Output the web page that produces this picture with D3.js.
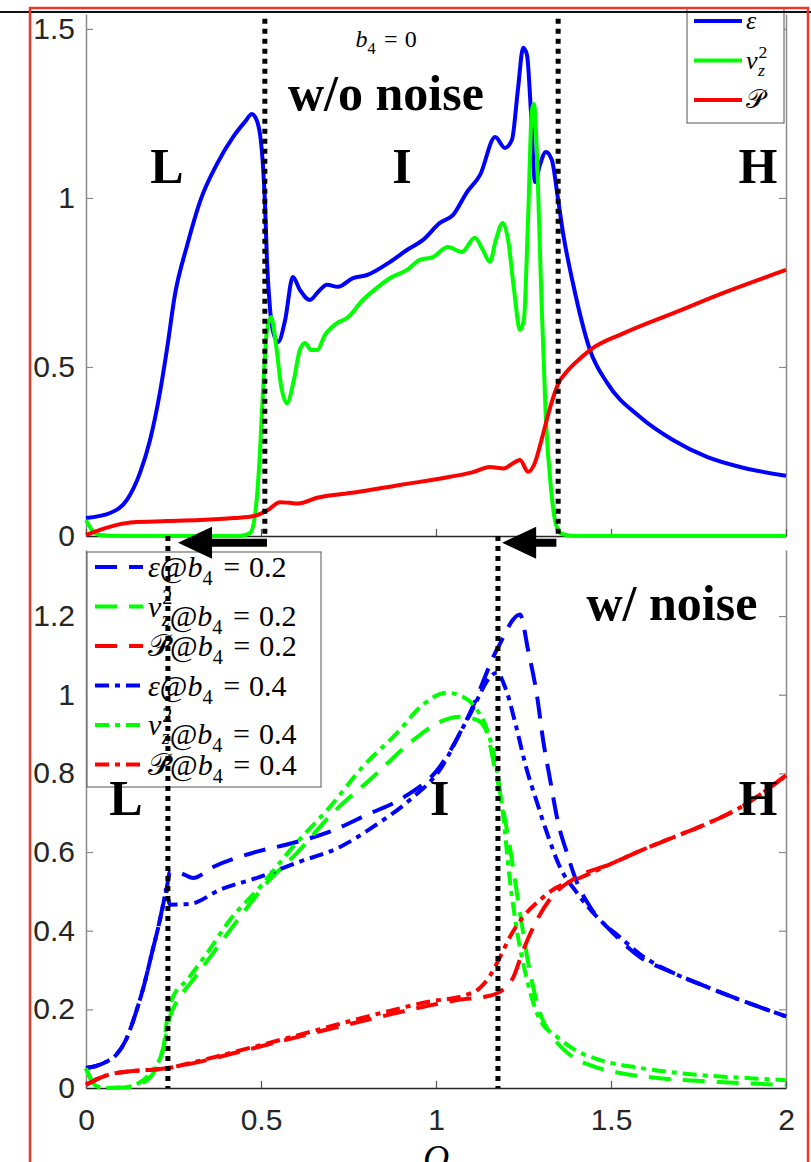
<!DOCTYPE html>
<meta charset="utf-8">
<style>
body { margin: 0; background: #fff; }
svg { display: block; }
.tick-label { font-family: "Liberation Sans", Arial, sans-serif; font-size: 30px; fill: #262626; }
.big { font-family: "Liberation Serif", "Times New Roman", serif; font-weight: bold; font-size: 50px; fill: #000; }
.math { font-family: "Liberation Serif", "Times New Roman", serif; fill: #000; }
</style>
<svg width="811" height="1162"></svg>
<script src="https://cdnjs.cloudflare.com/ajax/libs/d3/7.8.5/d3.min.js"></script>
<script>

// ---- data: [Q, value] ----
// top panel, b4 = 0, no noise
let epsTop = [[0,0.053],[0.069,0.068],[0.117,0.107],[0.154,0.186],[0.183,0.284],[0.211,0.423],[0.231,0.55],[0.254,0.713],
  [0.289,0.86],[0.326,0.99],[0.374,1.10],[0.42,1.18],[0.454,1.225],[0.474,1.248],[0.483,1.24],[0.497,1.19],[0.506,1.09],
  [0.511,0.994],[0.517,0.817],[0.526,0.669],[0.537,0.595],[0.549,0.574],[0.569,0.639],[0.591,0.766],[0.611,0.728],
  [0.64,0.698],[0.663,0.722],[0.689,0.743],[0.72,0.737],[0.763,0.763],[0.803,0.772],[0.869,0.811],[0.917,0.846],
  [0.963,0.876],[1.011,0.926],[1.049,0.95],[1.089,1.018],[1.126,1.068],[1.169,1.18],[1.197,1.148],[1.217,1.172],
  [1.234,1.32],[1.249,1.444],[1.26,1.423],[1.271,1.26],[1.283,1.047],[1.297,1.098],[1.314,1.136],[1.331,1.112],
  [1.349,0.994],[1.363,0.896],[1.391,0.749],[1.44,0.55],[1.489,0.453],[1.583,0.352],[1.677,0.284],[1.774,0.234],
  [1.869,0.204],[2,0.178]];
let vzTop = [[0,0.047],[0.017,0.018],[0.04,0.003],[0.097,0],[0.44,0],[0.469,0.009],[0.483,0.062],[0.494,0.195],
  [0.506,0.432],[0.517,0.609],[0.529,0.648],[0.543,0.565],[0.557,0.447],[0.574,0.393],[0.594,0.462],[0.611,0.55],
  [0.626,0.571],[0.643,0.55],[0.66,0.55],[0.683,0.595],[0.717,0.63],[0.746,0.645],[0.791,0.698],[0.831,0.734],
  [0.869,0.763],[0.917,0.787],[0.954,0.817],[0.991,0.825],[1.034,0.855],[1.074,0.84],[1.111,0.882],[1.134,0.846],
  [1.154,0.811],[1.171,0.876],[1.191,0.926],[1.206,0.876],[1.223,0.728],[1.24,0.609],[1.251,0.639],[1.263,0.935],
  [1.274,1.26],[1.28,1.278],[1.289,1.112],[1.3,0.74],[1.314,0.343],[1.329,0.136],[1.343,0.033],[1.36,0.006],
  [1.397,0],[2,0]];
let pTop = [[0,0.003],[0.04,0.018],[0.097,0.035],[0.134,0.041],[0.231,0.044],[0.326,0.047],[0.423,0.053],[0.48,0.059],
  [0.52,0.077],[0.554,0.1],[0.583,0.098],[0.606,0.096],[0.66,0.113],[0.754,0.127],[0.897,0.151],[1.04,0.175],
  [1.106,0.189],[1.154,0.204],[1.194,0.2],[1.22,0.215],[1.24,0.225],[1.263,0.19],[1.28,0.21],[1.303,0.29],
  [1.326,0.38],[1.349,0.45],[1.377,0.49],[1.417,0.53],[1.44,0.55],[1.537,0.6],[1.68,0.66],[1.823,0.72],[2,0.787]];

// bottom panel, with noise
let epsB02 = [[0,0.051],[0.029,0.056],[0.057,0.066],[0.086,0.084],[0.114,0.122],[0.143,0.193],[0.166,0.262],
  [0.189,0.346],[0.206,0.407],[0.223,0.478],[0.231,0.51],[0.24,0.55],[0.269,0.547],[0.306,0.534],[0.363,0.562],
  [0.477,0.598],[0.591,0.623],[0.697,0.652],[0.803,0.695],[0.906,0.738],[1.011,0.817],[1.097,0.954],[1.177,1.12],
  [1.24,1.204],[1.263,1.114],[1.289,0.995],[1.306,0.885],[1.326,0.784],[1.349,0.674],[1.374,0.598],[1.403,0.522],
  [1.44,0.461],[1.506,0.394],[1.583,0.333],[1.677,0.293],[1.774,0.257],[1.869,0.224],[2,0.182]];
let epsB04 = [[0,0.051],[0.029,0.056],[0.057,0.066],[0.086,0.084],[0.114,0.122],[0.143,0.193],[0.166,0.262],
  [0.189,0.346],[0.206,0.407],[0.223,0.478],[0.228,0.505],[0.24,0.466],[0.297,0.468],[0.383,0.504],[0.497,0.537],
  [0.603,0.573],[0.726,0.613],[0.82,0.664],[0.926,0.733],[1.011,0.809],[1.089,0.936],[1.174,1.056],[1.2,1.013],
  [1.229,0.919],[1.257,0.817],[1.289,0.725],[1.317,0.649],[1.354,0.562],[1.403,0.496],[1.46,0.435],[1.534,0.377],
  [1.583,0.34],[1.677,0.293],[1.774,0.257],[1.869,0.224],[2,0.182]];
let vzB02 = [[0,0.05],[0.015,0.02],[0.03,0.005],[0.06,0],[0.12,0.002],[0.16,0.012],[0.2,0.05],[0.22,0.1],[0.24,0.181],
  [0.269,0.232],[0.306,0.275],[0.363,0.343],[0.44,0.435],[0.517,0.522],[0.603,0.598],[0.706,0.7],[0.82,0.791],
  [0.926,0.878],[1.011,0.931],[1.069,0.944],[1.117,0.936],[1.146,0.903],[1.163,0.835],[1.183,0.75],[1.211,0.613],
  [1.24,0.445],[1.269,0.293],[1.297,0.191],[1.334,0.13],[1.383,0.084],[1.44,0.058],[1.526,0.038],[1.64,0.025],
  [1.81,0.015],[2,0.008]];
let vzB04 = [[0,0.05],[0.015,0.02],[0.03,0.005],[0.05,0],[0.11,0.002],[0.15,0.012],[0.19,0.045],[0.22,0.097],
  [0.234,0.19],[0.249,0.232],[0.289,0.275],[0.346,0.343],[0.411,0.427],[0.497,0.511],[0.591,0.613],[0.697,0.715],
  [0.791,0.817],[0.889,0.903],[0.963,0.975],[1.031,1.005],[1.077,0.995],[1.117,0.962],[1.146,0.911],[1.174,0.809],
  [1.191,0.7],[1.211,0.529],[1.231,0.402],[1.26,0.275],[1.297,0.173],[1.346,0.13],[1.397,0.097],[1.469,0.071],
  [1.583,0.051],[1.754,0.033],[1.897,0.025],[2,0.02]];
let pB02 = [[0,0.008],[0.03,0.022],[0.07,0.035],[0.12,0.042],[0.23,0.05],[0.3,0.062],[0.46,0.097],[0.65,0.14],
  [0.84,0.181],[0.983,0.21],[1.08,0.226],[1.14,0.232],[1.183,0.245],[1.22,0.28],[1.249,0.35],[1.29,0.43],
  [1.33,0.485],[1.4,0.535],[1.5,0.57],[1.583,0.603],[1.677,0.637],[1.774,0.672],[1.869,0.713],[2,0.795]];
let pB04 = [[0,0.008],[0.03,0.022],[0.07,0.035],[0.12,0.042],[0.23,0.05],[0.3,0.064],[0.46,0.1],[0.65,0.145],
  [0.84,0.19],[0.983,0.22],[1.08,0.235],[1.126,0.255],[1.154,0.285],[1.183,0.333],[1.211,0.384],[1.249,0.435],
  [1.297,0.478],[1.343,0.509],[1.4,0.53],[1.5,0.57],[1.583,0.603],[1.677,0.637],[1.774,0.672],[1.869,0.713],[2,0.795]];

// phase boundaries (Q) and the arrows that move them
let topBounds = [0.511, 1.349];
let botBounds = [0.234, 1.177];
let arrows = [[0.517, 0.263], [1.344, 1.189]];

let xTicks = [0, 0.5, 1, 1.5, 2];
let yTopTicks = [0, 0.5, 1, 1.5];
let yBotTicks = [0, 0.2, 0.4, 0.6, 0.8, 1, 1.2];

let svg = d3.select("svg");
let x = d3.scaleLinear().domain([0, 2]).range([86, 786]);
let yTop = d3.scaleLinear().domain([0, 1.544]).range([536, 14]);
let yBot = d3.scaleLinear().domain([0, 1.368]).range([1088, 550]);

let fmt = d3.format("~g");
let serif = "'Liberation Serif', 'Times New Roman', serif";

function yAxis(yScale, ticks, withLabels) {
    let left = svg.append("g")
        .attr("transform", "translate(" + x(0) + ",0)")
        .call(d3.axisLeft(yScale).tickValues(ticks).tickSizeInner(-7).tickSizeOuter(0)
            .tickPadding(11).tickFormat(withLabels ? fmt : ""));
    let right = svg.append("g")
        .attr("transform", "translate(" + x(2) + ",0)")
        .call(d3.axisRight(yScale).tickValues(ticks).tickSizeInner(-7).tickSizeOuter(0).tickFormat(""));
    [left, right].forEach(function(g) {
        g.select(".domain").attr("stroke", "#8a8a8a").attr("stroke-width", 1.5);
        g.selectAll(".tick line").attr("stroke", "#8a8a8a").attr("stroke-width", 1.2);
        g.selectAll("text").attr("class", "tick-label");
    });
}

function xAxis(yPos, withLabels) {
    let g = svg.append("g")
        .attr("transform", "translate(0," + yPos + ")")
        .call(d3.axisBottom(x).tickValues(xTicks).tickSizeInner(-7).tickSizeOuter(0)
            .tickPadding(21).tickFormat(withLabels ? fmt : ""));
    g.select(".domain").attr("stroke", "#262626").attr("stroke-width", 1.5);
    g.selectAll(".tick line").attr("stroke", "#555").attr("stroke-width", 1.2);
    g.selectAll("text").attr("class", "tick-label");
}

function drawLine(data, yScale, color, dash) {
    let line = d3.line()
        .curve(d3.curveMonotoneX)
        .x(function(d) { return x(d[0]); })
        .y(function(d) { return yScale(d[1]); });
    svg.append("path")
        .datum(data)
        .attr("d", line)
        .attr("fill", "none")
        .attr("stroke", color)
        .attr("stroke-width", 4)
        .attr("stroke-linejoin", "round")
        .attr("stroke-dasharray", dash || null);
}

// math-ish text built from tspans
function mathText(sel, parts, size) {
    sel.style("font-family", serif).style("font-size", size + "px");
    parts.forEach(function(p) {
        let t = sel.append("tspan").text(p.t).style("font-family", serif);
        if (p.it) t.style("font-style", "italic");
        if (p.size) t.style("font-size", p.size + "px");
        if (p.dx) t.attr("dx", p.dx);
        if (p.dy) t.attr("dy", p.dy);
    });
}

function epsParts(s) { return [{t: "\u03b5", it: true}]; }
function vzParts(s) {
    return [{t: "v", it: true}, {t: "2", size: s * 0.68, dy: -s * 0.42, dx: 1},
            {t: "z", it: true, size: s * 0.68, dx: -s * 0.36, dy: s * 0.72}, {t: "", dy: -s * 0.3}];
}
function pParts(s) { return [{t: "\ud835\udcab"}]; }
function b4Parts(s, val) {
    return [{t: "b", it: true}, {t: "4", size: s * 0.68, dy: s * 0.28},
            {t: "=", dx: s * 0.35, dy: -s * 0.28}, {t: val, dx: s * 0.3}];
}

// ---- top panel ----
yAxis(yTop, yTopTicks, true);
xAxis(yTop(0), false);

drawLine(epsTop, yTop, "#0000ff");
drawLine(vzTop, yTop, "#00ff00");
drawLine(pTop, yTop, "#ff0000");

// top legend
let legTop = svg.append("g").attr("transform", "translate(687,8)");
legTop.append("rect").attr("width", 97).attr("height", 115)
    .attr("fill", "#fff").attr("stroke", "#555").attr("stroke-width", 1);
let topItems = [{c: "#0000ff", p: epsParts}, {c: "#00ff00", p: vzParts}, {c: "#ff0000", p: pParts}];
topItems.forEach(function(it, i) {
    let yy = 13 + i * 39.5;
    legTop.append("line").attr("x1", 7).attr("x2", 55).attr("y1", yy).attr("y2", yy)
        .attr("stroke", it.c).attr("stroke-width", 4);
    let t = legTop.append("text").attr("class", "math").attr("x", 59).attr("y", yy + 8);
    mathText(t, it.p(26), 26);
});

topBounds.forEach(function(q) {
    svg.append("line").attr("x1", x(q)).attr("x2", x(q))
        .attr("y1", yTop(1.53)).attr("y2", yTop(0))
        .attr("stroke", "#000").attr("stroke-width", 5).attr("stroke-dasharray", "5,5");
});

let b4top = svg.append("text").attr("class", "math").attr("x", x(0.77)).attr("y", yTop(1.447));
mathText(b4top, b4Parts(24, "0"), 24);

svg.append("text").attr("class", "big").attr("x", x(0.857)).attr("y", yTop(1.26))
    .attr("text-anchor", "middle").text("w/o noise");
[["L", 0.231], ["I", 0.903], ["H", 1.92]].forEach(function(d) {
    svg.append("text").attr("class", "big").attr("x", x(d[1])).attr("y", yTop(1.044))
        .attr("text-anchor", "middle").text(d[0]);
});

// ---- bottom panel ----
yAxis(yBot, yBotTicks, true);
xAxis(yBot(0), true);

let dash02 = "22,12";
let dash04 = "14,6,5,6";
drawLine(epsB02, yBot, "#0000ff", dash02);
drawLine(vzB02, yBot, "#00ff00", dash02);
drawLine(pB02, yBot, "#ff0000", dash02);
drawLine(epsB04, yBot, "#0000ff", dash04);
drawLine(vzB04, yBot, "#00ff00", dash04);
drawLine(pB04, yBot, "#ff0000", dash04);

let legBot = svg.append("g").attr("transform", "translate(87,552)");
legBot.append("rect").attr("width", 234).attr("height", 235)
    .attr("fill", "#fff").attr("stroke", "#555").attr("stroke-width", 1);
let botItems = [
    {c: "#0000ff", p: epsParts, d: dash02, v: "0.2"},
    {c: "#00ff00", p: vzParts, d: dash02, v: "0.2"},
    {c: "#ff0000", p: pParts, d: dash02, v: "0.2"},
    {c: "#0000ff", p: epsParts, d: dash04, v: "0.4"},
    {c: "#00ff00", p: vzParts, d: dash04, v: "0.4"},
    {c: "#ff0000", p: pParts, d: dash04, v: "0.4"}
];
botItems.forEach(function(it, i) {
    let yy = 15 + i * 39.5;
    legBot.append("line").attr("x1", 8).attr("x2", 56).attr("y1", yy).attr("y2", yy)
        .attr("stroke", it.c).attr("stroke-width", 4).attr("stroke-dasharray", it.d);
    let t = legBot.append("text").attr("class", "math").attr("x", 61).attr("y", yy + 10);
    mathText(t, it.p(30).concat([{t: "@"}]).concat(b4Parts(30, it.v)), 30);
});

botBounds.forEach(function(q) {
    svg.append("line").attr("x1", x(q)).attr("x2", x(q))
        .attr("y1", yTop(0)).attr("y2", yBot(0))
        .attr("stroke", "#000").attr("stroke-width", 5).attr("stroke-dasharray", "5,5");
});

svg.append("text").attr("class", "big").attr("x", x(1.674)).attr("y", yBot(1.19))
    .attr("text-anchor", "middle").text("w/ noise");
[["L", 0.114], ["I", 1.011], ["H", 1.92]].forEach(function(d) {
    svg.append("text").attr("class", "big").attr("x", x(d[1])).attr("y", yBot(0.695))
        .attr("text-anchor", "middle").text(d[0]);
});

svg.append("text").attr("class", "math").attr("x", x(1)).attr("y", 1170)
    .attr("text-anchor", "middle").style("font-size", "36px").style("font-style", "italic").text("Q");

// arrows between the panels
let ay = yTop(-0.02);
arrows.forEach(function(a) {
    let x0 = x(a[0]), x1 = x(a[1]);
    let head = 34, half = 16, shaft = 4;
    let pts = [[x1, ay], [x1 + head, ay - half], [x1 + head, ay - shaft], [x0, ay - shaft],
               [x0, ay + shaft], [x1 + head, ay + shaft], [x1 + head, ay + half]];
    svg.append("polygon").attr("points", pts.map(function(p) { return p.join(","); }).join(" "))
        .attr("fill", "#000");
});

// page frame
svg.append("line").attr("x1", 0).attr("x2", 811).attr("y1", 12).attr("y2", 12)
    .attr("stroke", "#111").attr("stroke-width", 2);
svg.append("rect").attr("x", 30).attr("y", 8).attr("width", 778).attr("height", 1200)
    .attr("fill", "none").attr("stroke", "#e8382c").attr("stroke-width", 2.5);

</script>
